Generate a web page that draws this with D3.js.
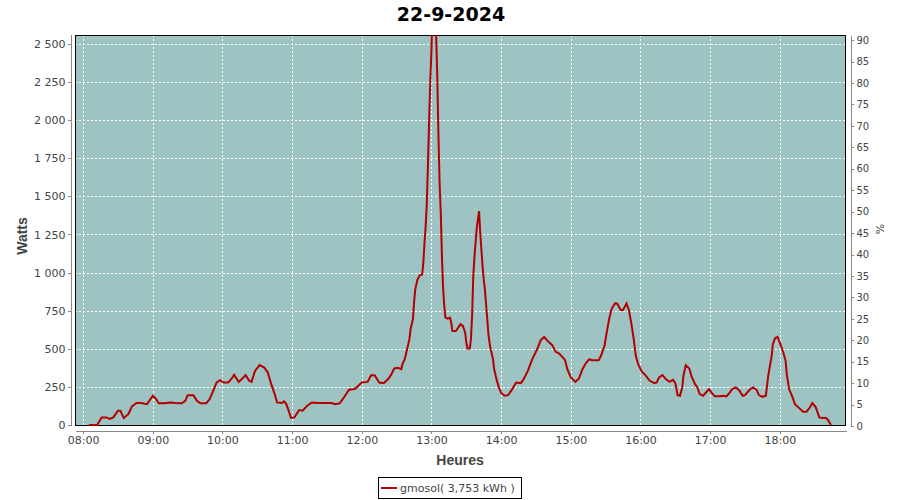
<!DOCTYPE html>
<html>
<head>
<meta charset="utf-8">
<script src="https://cdn.jsdelivr.net/npm/d3@7"></script>
<style>
  html, body { margin: 0; padding: 0; background: #ffffff; }
  svg { display: block; font-family: "DejaVu Sans", sans-serif; }
</style>
</head>
<body>
<svg id="chart" width="900" height="500"></svg>
<script>
// ---------------- data ----------------
const title = "22-9-2024";
const seriesName = "gmosol( 3,753 kWh )";
const times = ["08:05","08:12","08:16","08:20","08:23","08:26","08:30","08:32","08:35","08:39","08:42","08:46","08:50","08:55","08:57",
"09:00","09:03","09:05","09:10","09:15","09:19","09:25","09:28","09:30","09:35","09:38","09:41","09:46","09:49","09:52","09:55","09:58",
"10:01","10:05","10:08","10:10","10:14","10:20","10:23","10:25","10:28","10:32","10:36","10:39","10:42","10:45","10:47","10:51","10:53","10:55","10:57","10:59",
"11:02","11:06","11:09","11:13","11:17","11:22","11:28","11:34","11:37","11:41","11:45","11:49","11:54","11:57",
"12:00","12:05","12:08","12:11","12:15","12:19","12:23","12:25","12:28","12:31","12:34","12:35","12:37","12:39","12:41","12:42","12:44","12:45","12:46","12:48","12:50","12:52","12:53","12:54","12:55","12:56","12:57","12:58","12:59",
"13:00","13:01","13:02","13:03","13:04","13:05","13:06","13:07","13:08","13:09","13:10","13:11","13:12","13:14","13:16","13:17","13:18","13:21","13:23","13:25","13:27","13:29","13:30","13:31","13:33","13:34","13:35","13:36","13:37","13:38","13:39","13:40","13:41","13:42","13:43","13:44","13:45","13:46","13:47","13:48","13:49","13:50","13:51","13:53","13:54","13:56","13:58",
"14:00","14:03","14:06","14:09","14:13","14:17","14:19","14:23","14:27","14:31","14:34","14:37","14:40","14:44","14:47","14:50","14:55","14:57",
"15:00","15:04","15:07","15:10","15:13","15:16","15:18","15:24","15:26","15:29","15:31","15:33","15:35","15:38","15:40","15:43","15:45","15:48","15:50","15:52","15:54","15:56","15:58",
"16:01","16:04","16:08","16:12","16:14","16:16","16:19","16:22","16:25","16:28","16:30","16:32","16:34","16:36","16:37","16:39","16:42","16:44","16:47","16:49","16:51","16:54","16:57","16:59",
"17:01","17:04","17:08","17:11","17:14","17:17","17:19","17:22","17:25","17:28","17:30","17:34","17:37","17:40","17:42","17:45","17:48","17:49","17:50","17:53","17:54","17:56","17:58",
"18:00","18:03","18:05","18:06","18:08","18:11","18:13","18:17","18:20","18:23","18:26","18:28","18:31","18:34","18:37","18:40","18:42","18:44"];
const watts = [0,0,50,50,40,50,94,94,46,72,122,144,144,137,159,
192,170,142,142,148,144,142,159,196,196,159,142,142,170,224,279,294,
279,279,305,329,283,327,290,283,355,393,377,345,268,203,148,144,155,137,94,46,
50,98,94,126,148,144,144,144,137,142,185,231,236,257,
279,283,327,327,279,275,305,327,371,375,366,399,432,497,563,628,694,803,890,955,982,988,1065,1196,1305,1457,1719,2003,2264,
2461,2750,2850,2750,2560,2286,1900,1588,1392,1108,901,781,705,698,705,672,617,617,639,661,650,607,541,502,502,563,720,977,1100,1200,1290,1350,1403,1260,1150,1043,955,890,792,700,600,540,497,432,366,301,247,
210,192,196,229,279,275,296,355,436,497,556,578,552,524,480,469,427,366,
312,283,305,366,406,432,425,425,454,519,611,694,759,798,796,755,755,798,755,672,574,454,399,
351,329,290,275,279,312,327,300,283,296,275,196,192,247,323,393,371,319,268,247,203,192,218,236,
214,188,188,192,188,214,236,247,229,192,196,231,247,231,196,185,192,257,323,454,530,571,578,
541,476,421,334,236,181,137,109,87,87,116,144,116,50,46,46,28,0];

const xTicks = ["08:00","09:00","10:00","11:00","12:00","13:00","14:00","15:00","16:00","17:00","18:00"];
const yTicks = [0,250,500,750,1000,1250,1500,1750,2000,2250,2500];
const yTickLabels = ["0","250","500","750","1 000","1 250","1 500","1 750","2 000","2 250","2 500"];
const pctTicks = [0,5,10,15,20,25,30,35,40,45,50,55,60,65,70,75,80,85,90];
const xDomain = ["07:53","18:57"];
const yMax = 2559;
const pctMax = 91.2;

// ---------------- layout ----------------
const plot = {left: 75, right: 846, top: 35, bottom: 426};
const svg = d3.select("#chart");
const parse = d3.timeParse("%H:%M");

const x = d3.scaleTime().domain(xDomain.map(parse)).range([plot.left, plot.right]);
const y = d3.scaleLinear().domain([0, yMax]).range([plot.bottom - 1, plot.top]);
const yp = d3.scaleLinear().domain([0, pctMax]).range([plot.bottom, plot.top]);

// title
svg.append("text").attr("x", 451).attr("y", 21).attr("text-anchor", "middle")
  .attr("font-size", 19).attr("font-weight", "bold").attr("fill", "#000").text(title);

// plot background
svg.append("rect").attr("x", plot.left).attr("y", plot.top)
  .attr("width", plot.right - plot.left).attr("height", plot.bottom - plot.top)
  .attr("fill", "#9dc3c2");

// grid
const grid = svg.append("g").attr("stroke", "#ffffff").attr("stroke-width", 1)
  .attr("stroke-dasharray", "2,2").attr("shape-rendering", "crispEdges");
grid.selectAll("line.h").data(yTicks.slice(1)).join("line")
  .attr("x1", plot.left).attr("x2", plot.right)
  .attr("y1", d => Math.round(y(d)) + 0.5).attr("y2", d => Math.round(y(d)) + 0.5);
grid.selectAll("line.v").data(xTicks).join("line")
  .attr("y1", plot.top).attr("y2", plot.bottom)
  .attr("x1", d => Math.round(x(parse(d))) + 0.5).attr("x2", d => Math.round(x(parse(d))) + 0.5);

// plot border
svg.append("rect").attr("x", plot.left + 0.5).attr("y", plot.top + 0.5)
  .attr("width", plot.right - plot.left - 1).attr("height", plot.bottom - plot.top - 1)
  .attr("fill", "none").attr("stroke", "#000").attr("stroke-width", 1);

// series (drawn over the frame so the zero level stays visible)
const data = times.map((t, i) => ({t: parse(t), v: watts[i]}));
svg.append("clipPath").attr("id", "clip").append("rect")
  .attr("x", plot.left).attr("y", plot.top)
  .attr("width", plot.right - plot.left).attr("height", plot.bottom - plot.top + 1);
svg.append("path").datum(data)
  .attr("clip-path", "url(#clip)")
  .attr("fill", "none").attr("stroke", "#b40000").attr("stroke-width", 2)
  .attr("stroke-linejoin", "miter")
  .attr("d", d3.line().x(d => x(d.t)).y(d => y(d.v)));

// axes
function styleAxis(g) {
  g.selectAll(".domain").attr("stroke", "#888888").attr("shape-rendering", "crispEdges");
  g.selectAll(".tick line").attr("stroke", "#888888").attr("shape-rendering", "crispEdges");
  g.selectAll(".tick text").attr("fill", "#444444").attr("font-size", 11)
    .attr("font-family", "DejaVu Sans, sans-serif");
}

const gy = svg.append("g").attr("transform", "translate(71.5,0)")
  .call(d3.axisLeft(y).tickValues(yTicks).tickFormat((d, i) => yTickLabels[i])
    .tickSize(4).tickSizeOuter(0).tickPadding(2));
styleAxis(gy);
gy.select(".domain").attr("d", `M0,${plot.top}V${plot.bottom}`);

const gx = svg.append("g").attr("transform", "translate(0,430.5)")
  .call(d3.axisBottom(x).tickValues(xTicks.map(parse)).tickFormat((d, i) => xTicks[i])
    .tickSize(3).tickSizeOuter(0).tickPadding(3));
styleAxis(gx);

const gr = svg.append("g").attr("transform", "translate(850.5,0)")
  .call(d3.axisRight(yp).tickValues(pctTicks).tickFormat(d => String(d))
    .tickSize(3).tickSizeOuter(0).tickPadding(3));
styleAxis(gr);
gr.selectAll(".tick text").attr("font-size", 10);

// axis titles
svg.append("text").attr("transform", "translate(27,236) rotate(-90)")
  .attr("text-anchor", "middle").attr("font-size", 14).attr("font-weight", "bold")
  .attr("font-family", "Liberation Sans, sans-serif")
  .attr("fill", "#444444").text("Watts");
svg.append("text").attr("x", 460).attr("y", 465)
  .attr("text-anchor", "middle").attr("font-size", 14).attr("font-weight", "bold")
  .attr("font-family", "Liberation Sans, sans-serif")
  .attr("fill", "#444444").text("Heures");
svg.append("text").attr("transform", "translate(884,229) rotate(-90)")
  .attr("text-anchor", "middle").attr("font-size", 11)
  .attr("fill", "#444444").text("%");

// legend
const lg = svg.append("g");
lg.append("rect").attr("x", 378.5).attr("y", 477.5).attr("width", 143).attr("height", 21)
  .attr("fill", "#ffffff").attr("stroke", "#000").attr("stroke-width", 1);
lg.append("line").attr("x1", 381).attr("x2", 397).attr("y1", 488).attr("y2", 488)
  .attr("stroke", "#b40000").attr("stroke-width", 2);
lg.append("text").attr("x", 400).attr("y", 492).attr("font-size", 11)
  .attr("fill", "#444444").text(seriesName);
</script>
</body>
</html>
